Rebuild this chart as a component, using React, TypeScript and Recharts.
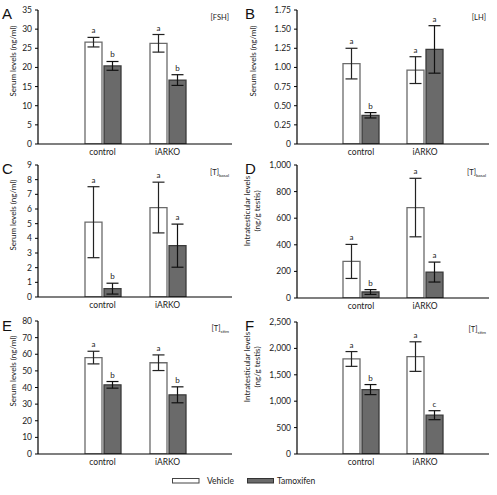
import React from 'react';
import { BarChart, Bar, XAxis, YAxis, ErrorBar, LabelList } from 'recharts';

const groups = ['control', 'iARKO'];
const seriesNames = ['Vehicle', 'Tamoxifen'];

// Panel A – serum FSH
const fshVehicle = [26.6, 26.3];
const fshVehicleErr = [1.25, 2.3];
const fshTamoxifen = [20.4, 16.7];
const fshTamoxifenErr = [1.15, 1.4];
const fshVehicleSig = ['a', 'a'];
const fshTamoxifenSig = ['b', 'b'];
const fshTicks = [0, 5, 10, 15, 20, 25, 30, 35];

// Panel B – serum LH
const lhVehicle = [1.05, 0.965];
const lhVehicleErr = [0.2, 0.175];
const lhTamoxifen = [0.375, 1.235];
const lhTamoxifenErr = [0.035, 0.31];
const lhVehicleSig = ['a', 'a'];
const lhTamoxifenSig = ['b', 'a'];
const lhTicks = [0, 0.25, 0.5, 0.75, 1, 1.25, 1.5, 1.75];

// Panel C – serum T basal
const serumTbVehicle = [5.1, 6.1];
const serumTbVehicleErr = [2.42, 1.73];
const serumTbTamoxifen = [0.57, 3.5];
const serumTbTamoxifenErr = [0.37, 1.47];
const serumTbVehicleSig = ['a', 'a'];
const serumTbTamoxifenSig = ['b', 'a'];
const serumTbTicks = [0, 1, 2, 3, 4, 5, 6, 7, 8, 9];

// Panel D – intratesticular T basal
const itTbVehicle = [275, 680];
const itTbVehicleErr = [128, 220];
const itTbTamoxifen = [45, 195];
const itTbTamoxifenErr = [18, 75];
const itTbVehicleSig = ['a', 'a'];
const itTbTamoxifenSig = ['b', 'a'];
const itTbTicks = [0, 200, 400, 600, 800, 1000];

// Panel E – serum T stim
const serumTsVehicle = [58, 54.9];
const serumTsVehicleErr = [3.8, 4.7];
const serumTsTamoxifen = [41.6, 35.6];
const serumTsTamoxifenErr = [2, 4.8];
const serumTsVehicleSig = ['a', 'a'];
const serumTsTamoxifenSig = ['b', 'b'];
const serumTsTicks = [0, 10, 20, 30, 40, 50, 60, 70, 80];

// Panel F – intratesticular T stim
const itTsVehicle = [1800, 1845];
const itTsVehicleErr = [140, 280];
const itTsTamoxifen = [1220, 735];
const itTsTamoxifenErr = [95, 85];
const itTsVehicleSig = ['a', 'a'];
const itTsTamoxifenSig = ['b', 'c'];
const itTsTicks = [0, 500, 1000, 1500, 2000, 2500];

const FONT = "Lato, 'Open Sans', sans-serif";

type PanelSpec = {
  panelX: number;
  panelW: number;
  plotLeft: number;
  plotRight: number;
  plotTop: number;
  plotBottom: number;
  v: number[];
  ve: number[];
  t: number[];
  te: number[];
  vs: string[];
  ts: string[];
  ticks: number[];
  fmt: (n: number) => string;
};

const makeRows = (v: number[], ve: number[], t: number[], te: number[]) =>
  groups.map((g, i) => ({ group: g, vehicle: v[i], vehicleErr: ve[i], tamoxifen: t[i], tamoxifenErr: te[i] }));

const makeSig = (letters: string[], errs: number[], values: number[]) => (p: any) => {
  const vb = p.viewBox && p.viewBox.width !== undefined ? p.viewBox : p;
  const x = Number(vb.x);
  const y = Number(vb.y);
  const w = Number(vb.width);
  const h = Number(vb.height);
  const i = Number(p.index);
  const val = values[i];
  const ppu = Math.abs(h) / val;
  const top = Math.min(y, y + h) - errs[i] * ppu;
  return (
    <text x={x + w / 2} y={top - 4} textAnchor="middle" fontSize={8} fontFamily={FONT} fill="#222">
      {letters[i]}
    </text>
  );
};

const intFmt = (n: number) => n.toLocaleString('en-US');

const panels: PanelSpec[] = [
  { panelX: 0, panelW: 248, plotLeft: 38, plotRight: 232, plotTop: 10, plotBottom: 144, v: fshVehicle, ve: fshVehicleErr, t: fshTamoxifen, te: fshTamoxifenErr, vs: fshVehicleSig, ts: fshTamoxifenSig, ticks: fshTicks, fmt: (n) => String(n) },
  { panelX: 248, panelW: 249, plotLeft: 297, plotRight: 489, plotTop: 10, plotBottom: 144, v: lhVehicle, ve: lhVehicleErr, t: lhTamoxifen, te: lhTamoxifenErr, vs: lhVehicleSig, ts: lhTamoxifenSig, ticks: lhTicks, fmt: (n) => (n === 0 ? '0' : n.toFixed(2)) },
  { panelX: 0, panelW: 248, plotLeft: 38, plotRight: 232, plotTop: 165, plotBottom: 297, v: serumTbVehicle, ve: serumTbVehicleErr, t: serumTbTamoxifen, te: serumTbTamoxifenErr, vs: serumTbVehicleSig, ts: serumTbTamoxifenSig, ticks: serumTbTicks, fmt: (n) => String(n) },
  { panelX: 248, panelW: 249, plotLeft: 297, plotRight: 489, plotTop: 165, plotBottom: 298, v: itTbVehicle, ve: itTbVehicleErr, t: itTbTamoxifen, te: itTbTamoxifenErr, vs: itTbVehicleSig, ts: itTbTamoxifenSig, ticks: itTbTicks, fmt: intFmt },
  { panelX: 0, panelW: 248, plotLeft: 38, plotRight: 232, plotTop: 321, plotBottom: 454, v: serumTsVehicle, ve: serumTsVehicleErr, t: serumTsTamoxifen, te: serumTsTamoxifenErr, vs: serumTsVehicleSig, ts: serumTsTamoxifenSig, ticks: serumTsTicks, fmt: (n) => String(n) },
  { panelX: 248, panelW: 249, plotLeft: 297, plotRight: 489, plotTop: 322, plotBottom: 454, v: itTsVehicle, ve: itTsVehicleErr, t: itTsTamoxifen, te: itTsTamoxifenErr, vs: itTsVehicleSig, ts: itTsTamoxifenSig, ticks: itTsTicks, fmt: intFmt },
];

const Panel = ({ s }: { s: PanelSpec }) => {
  const TOPM = 10;
  const XH = 16;
  const plotH = s.plotBottom - s.plotTop;
  const height = plotH + TOPM + XH;
  const rows = makeRows(s.v, s.ve, s.t, s.te);
  const max = s.ticks[s.ticks.length - 1];
  return (
    <div style={{ position: 'absolute', left: s.panelX, top: s.plotTop - TOPM, width: s.panelW, height }}>
      <BarChart
        width={s.panelW}
        height={height}
        data={rows}
        margin={{ top: TOPM, right: s.panelX + s.panelW - s.plotRight, bottom: 0, left: 0 }}
        barGap={2}
      >
        <XAxis
          dataKey="group"
          padding={{ left: 32, right: 32 }}
          height={XH}
          tickLine={false}
          tickSize={3}
          tickMargin={2}
          axisLine={{ stroke: '#000', strokeWidth: 1.2 }}
          tick={{ fontSize: 8.5, fontFamily: FONT, fill: '#222' }}
        />
        <XAxis xAxisId="top" orientation="top" dataKey="group" height={0} tick={false} tickLine={false} axisLine={{ stroke: '#8a8a8a', strokeWidth: 1.2 }} />
        <YAxis
          width={s.plotLeft - s.panelX}
          domain={[0, max]}
          ticks={s.ticks}
          interval={0}
          tickFormatter={s.fmt}
          tickSize={3}
          tickMargin={3}
          axisLine={{ stroke: '#000', strokeWidth: 1.2 }}
          tickLine={{ stroke: '#000' }}
          tick={{ fontSize: 8.5, fontFamily: FONT, fill: '#222' }}
          allowDataOverflow
        />
        <YAxis yAxisId="right" orientation="right" width={0} domain={[0, 1]} tick={false} tickLine={false} axisLine={{ stroke: '#8a8a8a', strokeWidth: 1.2 }} />
        <Bar dataKey="vehicle" name={seriesNames[0]} barSize={17} fill="#ffffff" stroke="#6a6a6a" strokeWidth={1.3} isAnimationActive={false}>
          <ErrorBar dataKey="vehicleErr" width={6} stroke="#222" strokeWidth={1.2} direction="y" />
          <LabelList dataKey="vehicle" content={makeSig(s.vs, s.ve, s.v)} />
        </Bar>
        <Bar dataKey="tamoxifen" name={seriesNames[1]} barSize={17} fill="#6a6a6a" stroke="#3a3a3a" strokeWidth={1.3} isAnimationActive={false}>
          <ErrorBar dataKey="tamoxifenErr" width={6} stroke="#111" strokeWidth={1.2} direction="y" />
          <LabelList dataKey="tamoxifen" content={makeSig(s.ts, s.te, s.t)} />
        </Bar>
      </BarChart>
    </div>
  );
};

const letters = [
  { t: 'A', x: 2, y: 19 },
  { t: 'B', x: 245, y: 19 },
  { t: 'C', x: 2, y: 174 },
  { t: 'D', x: 245, y: 174 },
  { t: 'E', x: 2, y: 331 },
  { t: 'F', x: 245, y: 331 },
];

const YLabel = ({ x, y, lines }: { x: number; y: number; lines: string[] }) => (
  <g>
    {lines.map((l, i) => (
      <text
        key={i}
        x={x + i * 10}
        y={y}
        transform={`rotate(-90 ${x + i * 10} ${y})`}
        textAnchor="middle"
        fontSize={8}
        fontFamily={FONT}
        fill="#222"
      >
        {l}
      </text>
    ))}
  </g>
);

const Tag = ({ x, y, main, sub }: { x: number; y: number; main: string; sub?: string }) => (
  <text x={x} y={y} textAnchor="end" fontSize={7.5} fontFamily={FONT} fill="#222">
    {main}
    {sub ? (
      <tspan fontSize={4.5} dy={1.5}>
        {sub}
      </tspan>
    ) : null}
  </text>
);

export default function App() {
  return (
    <div style={{ position: 'absolute', left: 0, top: 0, width: 497, height: 495, background: '#fff', overflow: 'hidden' }}>
      {panels.map((s, i) => (
        <Panel key={i} s={s} />
      ))}
      <svg width={497} height={495} style={{ position: 'absolute', left: 0, top: 0, pointerEvents: 'none' }}>
        {letters.map((l) => (
          <text key={l.t} x={l.x} y={l.y} fontSize={15} fontFamily="'Liberation Sans', Arial, sans-serif" fill="#111">
            {l.t}
          </text>
        ))}
        <YLabel x={16} y={61} lines={['Serum levels (ng/ml)']} />
        <YLabel x={256} y={61} lines={['Serum levels (ng/ml)']} />
        <YLabel x={16} y={215} lines={['Serum levels (ng/ml)']} />
        <YLabel x={250} y={211} lines={['Intratesticular levels', '(ng/g testis)']} />
        <YLabel x={16} y={371} lines={['Serum levels (ng/ml)']} />
        <YLabel x={250} y={367} lines={['Intratesticular levels', '(ng/g testis)']} />
        <Tag x={229} y={20} main="[FSH]" />
        <Tag x={486} y={20} main="[LH]" />
        <Tag x={229} y={175} main="[T]" sub="basal" />
        <Tag x={486} y={175} main="[T]" sub="basal" />
        <Tag x={229} y={331} main="[T]" sub="stim" />
        <Tag x={486} y={332} main="[T]" sub="stim" />
        <rect x={172.5} y={478.5} width={26.5} height={4.5} fill="#fff" stroke="#444" strokeWidth={1} />
        <text x={207} y={484} fontSize={8.5} fontFamily={FONT} fill="#222">
          {seriesNames[0]}
        </text>
        <rect x={247.5} y={478.5} width={26} height={4.5} fill="#6a6a6a" stroke="#333" strokeWidth={1} />
        <text x={277} y={484} fontSize={8.5} fontFamily={FONT} fill="#222">
          {seriesNames[1]}
        </text>
      </svg>
    </div>
  );
}
